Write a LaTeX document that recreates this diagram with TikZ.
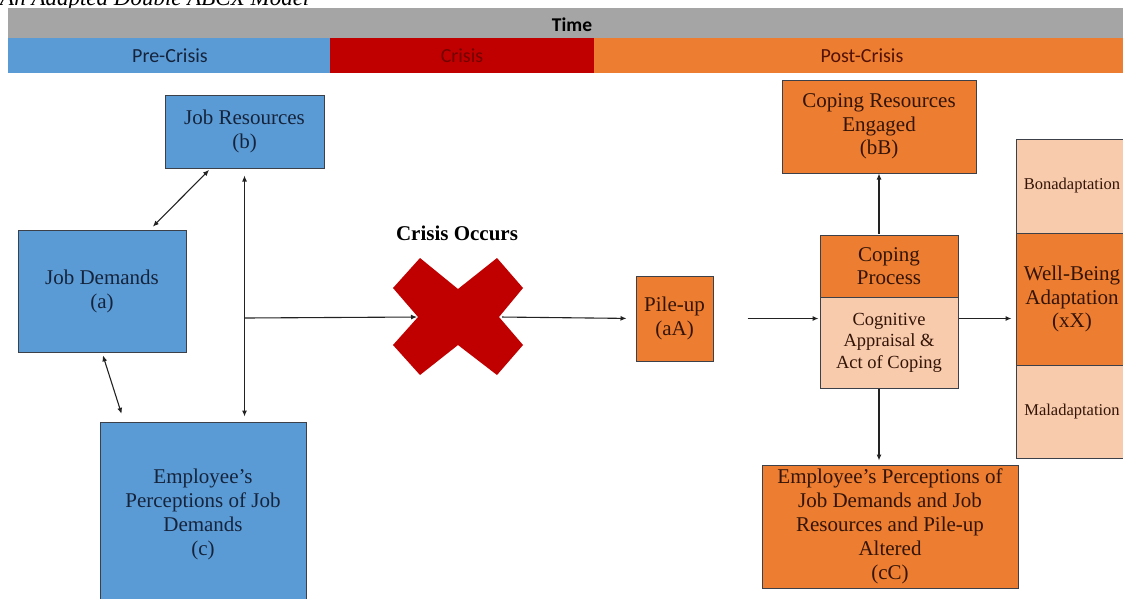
\documentclass[tikz,border=0pt]{standalone}
\usepackage{fontspec}
\setmainfont{Liberation Serif}
\newfontfamily\hdrfont{Carlito}
\usetikzlibrary{arrows.meta}
\definecolor{cblue}{HTML}{5B9BD5}
\definecolor{corange}{HTML}{ED7D31}
\definecolor{cpeach}{HTML}{F8CBAD}
\definecolor{cred}{HTML}{C00000}
\definecolor{cgrey}{HTML}{A5A5A5}
\definecolor{bluetext}{HTML}{15243C}
\definecolor{browntext}{HTML}{331406}
\definecolor{bordercol}{HTML}{3C4048}
\definecolor{linecol}{HTML}{222222}
\begin{document}
\begin{tikzpicture}[x=1pt,y=-1pt,
  box/.style={draw=bordercol, line width=1pt, align=center, inner sep=0pt},
  bluebox/.style={box, fill=cblue, text=bluetext, font=\fontsize{21}{24}\selectfont},
  orbox/.style={box, fill=corange, text=browntext, font=\fontsize{21}{23.5}\selectfont},
  pchbox/.style={box, fill=cpeach, text=browntext},
  hdr/.style={font=\hdrfont\fontsize{20}{22}\selectfont, inner sep=0pt},
  arr/.style={draw=linecol, line width=1.1pt, -{Latex[length=6pt,width=5pt]}},
  darr/.style={draw=linecol, line width=1.1pt, {Latex[length=6pt,width=5pt]}-{Latex[length=6pt,width=5pt]}}
]
\useasboundingbox (0,0) rectangle (1123,598);
\clip (0,0) rectangle (1123,598);
% title (cut off at the top edge, as in the reference)
\node[anchor=base west, inner sep=0pt, font=\itshape\fontsize{23}{25}\selectfont] (title) at (0,5) {An Adapted Double ABCX Model};
% header bars
\fill[cgrey] (8,8) rectangle (1123,38);
\node[hdr, font=\hdrfont\bfseries\fontsize{19.5}{22}\selectfont] (time) at (572,25) {Time};
\fill[cblue] (8,38) rectangle (330,73);
\node[hdr, text=bluetext] (pre) at (170,56) {Pre-Crisis};
\fill[cred] (330,38) rectangle (594,73);
\node[hdr, text=red!45!black] (cri) at (462,56) {Crisis};
\fill[corange] (594,38) rectangle (1123,73);
\node[hdr, text=browntext!85!red] (post) at (862,56) {Post-Crisis};

% pre-crisis boxes
\node[bluebox, minimum width=159pt, minimum height=73pt] (b) at (244.5,131.5) {Job Resources\\(b)};
\node[bluebox, minimum width=168pt, minimum height=122pt] (a) at (102,291) {Job Demands\\(a)};
\node[bluebox, minimum width=206pt, minimum height=184pt] (c) at (203,514) {Employee's\\Perceptions of Job\\Demands\\(c)};

% crisis
\node[font=\bfseries\fontsize{21}{24}\selectfont, inner sep=0pt] (occ) at (457,233) {Crisis Occurs};
\fill[cred] (420,258) -- (458,289) -- (497,258) -- (523,288) -- (499,317) -- (523,345) -- (497,375) -- (458,345) -- (420,375) -- (393,345) -- (418,317) -- (393,288) -- cycle;
\coordinate (xl) at (418,317);
\coordinate (xr) at (500,317);
\coordinate (j) at (244.5,318);

% post-crisis boxes
\node[orbox, minimum width=77pt, minimum height=85pt] (pile) at (674.5,318.5) {Pile-up\\(aA)};
\node[orbox, minimum width=138pt, minimum height=62pt] (cp) at (889,266) {Coping\\Process};
\node[pchbox, minimum width=138pt, minimum height=91pt, font=\fontsize{18.5}{21.5}\selectfont] (ca) at (889,342.5) {Cognitive\\Appraisal \&\\Act of Coping};
\node[orbox, minimum width=194pt, minimum height=93pt] (bB) at (879,126.5) {Coping Resources\\Engaged\\(bB)};
\node[pchbox, minimum width=112pt, minimum height=94pt, font=\fontsize{16.5}{19}\selectfont] (bon) at (1072,186) {Bonadaptation};
\node[orbox, minimum width=112pt, minimum height=132pt, font=\fontsize{21}{23.5}\selectfont] (wb) at (1072,299) {Well-Being\\Adaptation\\(xX)};
\node[pchbox, minimum width=112pt, minimum height=93pt, font=\fontsize{16.5}{19}\selectfont] (mal) at (1072,411.5) {Maladaptation};
\node[orbox, minimum width=256pt, minimum height=123pt, font=\fontsize{21}{24}\selectfont] (cC) at (890,526.5) {Employee's Perceptions of\\Job Demands and Job\\Resources and Pile-up\\Altered\\(cC)};

% connectors
\draw[darr, shorten <=2pt, shorten >=4pt] ([xshift=-34pt]b.south) -- ([xshift=48pt]a.north);
\draw[darr, shorten <=3pt, shorten >=8pt] (a.south) -- ([xshift=-79pt]c.north);
\draw[darr, shorten <=7pt, shorten >=5pt] (b.south) -- (c.north -| b.south);
\draw[arr, shorten >=1pt] (j) -- (xl);
\draw[arr, shorten <=2pt, shorten >=9pt] (xr) -- (pile.west);
\draw[arr, shorten <=34pt, shorten >=1pt] (pile.east) -- (pile.east -| ca.west);
\draw[arr, shorten <=1pt] (bB.south |- cp.north) -- (bB.south);
\draw[arr, shorten >=4pt] (pile.east -| ca.east) -- (pile.east -| wb.west);
\draw[arr, shorten >=4pt] (bB.south |- ca.south) -- (bB.south |- cC.north);
\end{tikzpicture}
\end{document}
